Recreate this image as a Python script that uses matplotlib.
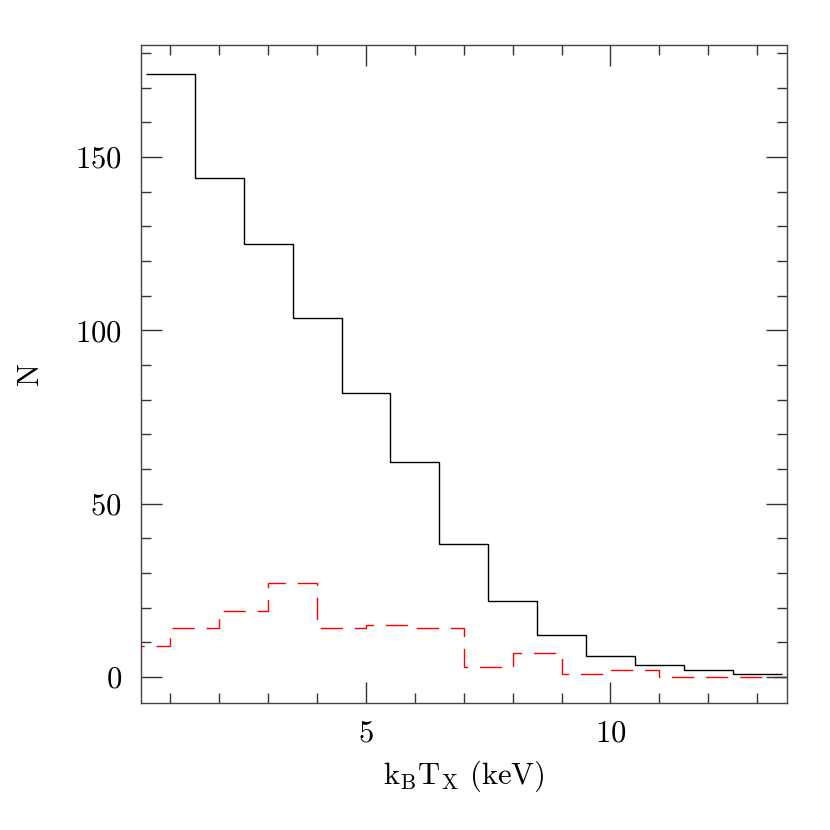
import matplotlib
matplotlib.use("Agg")
import matplotlib.pyplot as plt
from matplotlib.ticker import MultipleLocator

plt.rcParams['font.family'] = ['cmr10', 'DejaVu Serif']
plt.rcParams['mathtext.fontset'] = 'cm'
plt.rcParams['axes.formatter.use_mathtext'] = True

# Data
black_edges = [0.5, 1.5, 2.5, 3.5, 4.5, 5.5, 6.5, 7.5, 8.5, 9.5, 10.5, 11.5, 12.5, 13.5]
black_counts = [174, 144, 125, 103.5, 82, 62, 38.5, 22, 12, 6, 3.5, 2, 1]
red_edges = [0, 1, 2, 3, 4, 5, 6, 7, 8, 9, 10, 11, 12, 13, 14]
red_counts = [9, 14, 19, 27, 14, 15, 14, 3, 7, 1, 2, 0, 0, 0]

fig = plt.figure(figsize=(8.3, 8.3), dpi=100)
ax = fig.add_axes([0.170, 0.153, 0.7776, 0.7928])

ax.stairs(black_counts, black_edges, color='black', lw=1.0, baseline=None)
ax.stairs(red_counts, red_edges, color='red', lw=1.0, baseline=None,
          linestyle=(0, (16, 8.5)))

ax.set_xlim(0.40, 13.6)
ax.set_ylim(-7.5, 182.3)

ax.xaxis.set_major_locator(MultipleLocator(5))
ax.xaxis.set_minor_locator(MultipleLocator(1))
ax.yaxis.set_major_locator(MultipleLocator(50))
ax.yaxis.set_minor_locator(MultipleLocator(10))

ax.tick_params(which='both', direction='in', top=True, right=True,
               width=1.0, color='#333333')
ax.tick_params(which='major', length=15, labelsize=22)
ax.tick_params(which='minor', length=7.5)
ax.tick_params(axis='x', which='major', pad=12)
ax.tick_params(axis='y', which='major', pad=14)

for s in ax.spines.values():
    s.set_linewidth(1.0)
    s.set_color('#444444')

ax.set_xlabel(r'$\mathrm{k_B T_X}$ (keV)', fontsize=22, labelpad=8)
ax.set_ylabel('N', fontsize=22, labelpad=22)

fig.savefig('out.png', dpi=100)
